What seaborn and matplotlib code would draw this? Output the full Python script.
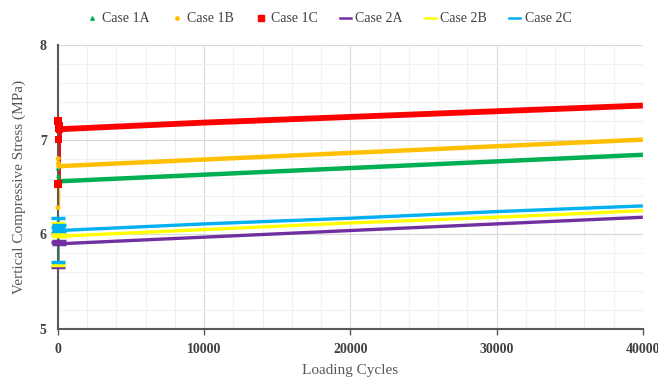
import pandas as pd
import seaborn as sns
import matplotlib.pyplot as plt
from matplotlib.lines import Line2D
from matplotlib.ticker import MultipleLocator

# early cycles (transient near x=0) followed by the long-run readings
cycles = [0, 20, 40, 60, 80, 100, 10000, 20000, 30000, 40000]

case_1a = [6.55, 6.70, 6.62, 6.58, 6.56, 6.56, 6.63, 6.70, 6.77, 6.84]
case_1b = [6.28, 6.80, 6.75, 6.72, 6.73, 6.72, 6.79, 6.86, 6.93, 7.00]
case_1c = [6.53, 7.20, 7.00, 7.15, 7.12, 7.11, 7.18, 7.24, 7.30, 7.36]
case_2a = [5.65, 6.01, 5.92, 5.93, 5.91, 5.90, 5.97, 6.04, 6.11, 6.18]
case_2b = [5.68, 6.12, 6.00, 5.99, 5.98, 5.98, 6.05, 6.12, 6.18, 6.25]
case_2c = [5.71, 6.17, 6.08, 6.10, 6.05, 6.04, 6.11, 6.17, 6.24, 6.30]

names = ["Case 1A", "Case 1B", "Case 1C", "Case 2A", "Case 2B", "Case 2C"]
series = [case_1a, case_1b, case_1c, case_2a, case_2b, case_2c]
colors = ["#00B050", "#FFC000", "#FF0000", "#7030A0", "#FFFF00", "#00B0F0"]
widths = [3.2, 3.2, 4.2, 2.4, 2.4, 2.4]
markers = ["^", "o", "s", "_", "_", "_"]
msizes = [12, 12, 30, 90, 90, 90]

plt.rcParams["font.family"] = ["Liberation Serif", "DejaVu Serif"]

fig = plt.figure(figsize=(6.58, 3.81), dpi=100)
ax = fig.add_axes([0.088, 0.1365, 0.889, 0.7455])

for name, vals, col, lw, mk, ms in zip(names, series, colors, widths, markers, msizes):
    df = pd.DataFrame({"cycles": cycles, "stress": vals})
    sns.lineplot(data=df, x="cycles", y="stress", ax=ax, color=col, lw=lw,
                 estimator=None, sort=False, solid_capstyle="butt")
    # early-cycle readings sit on the y axis and spill over it
    early = df.iloc[:6]
    pts = sns.scatterplot(data=early, x="cycles", y="stress", ax=ax, color=col,
                          marker=mk, s=ms, linewidth=2.5 if mk == "_" else 0,
                          edgecolor=col if mk == "_" else "none", zorder=4)
    pts.collections[-1].set_clip_on(False)

ax.set_xlim(0, 40000)
ax.set_ylim(5, 8)
ax.xaxis.set_major_locator(MultipleLocator(10000))
ax.xaxis.set_minor_locator(MultipleLocator(2000))
ax.yaxis.set_major_locator(MultipleLocator(1))
ax.yaxis.set_minor_locator(MultipleLocator(0.2))
ax.grid(which="major", color="#D9D9D9", lw=0.8)
ax.grid(which="minor", color="#F0F0F0", lw=0.8)
ax.set_axisbelow(True)

for s in ["top", "right"]:
    ax.spines[s].set_visible(False)
for s in ["left", "bottom"]:
    ax.spines[s].set_color("#595959")
    ax.spines[s].set_linewidth(1.5)

ax.tick_params(axis="x", which="major", length=4, width=1, color="#595959",
               labelsize=10, labelcolor="#404040", pad=6)
ax.tick_params(axis="x", which="minor", length=0)
ax.tick_params(axis="y", which="both", length=0, labelsize=10,
               labelcolor="#404040", pad=8)
for lbl in ax.get_xticklabels() + ax.get_yticklabels():
    lbl.set_fontweight("bold")

ax.set_xlabel("Loading Cycles", fontsize=11, color="#595959", labelpad=6)
ax.set_ylabel("Vertical Compressive Stress (MPa)", fontsize=11,
              color="#595959", labelpad=10)

handles = [
    Line2D([], [], ls="none", marker="^", ms=2.5, color=colors[0]),
    Line2D([], [], ls="none", marker="o", ms=2.5, color=colors[1]),
    Line2D([], [], ls="none", marker="s", ms=4.5, color=colors[2]),
    Line2D([], [], color=colors[3], lw=1.8),
    Line2D([], [], color=colors[4], lw=1.8),
    Line2D([], [], color=colors[5], lw=1.8),
]
fig.legend(handles, names, loc="upper center", bbox_to_anchor=(0.5, 1.0),
           ncol=6, frameon=False, fontsize=10, handlelength=0.8,
           handletextpad=0.3, columnspacing=1.6, labelcolor="#404040")

fig.savefig("out.png", dpi=100)
